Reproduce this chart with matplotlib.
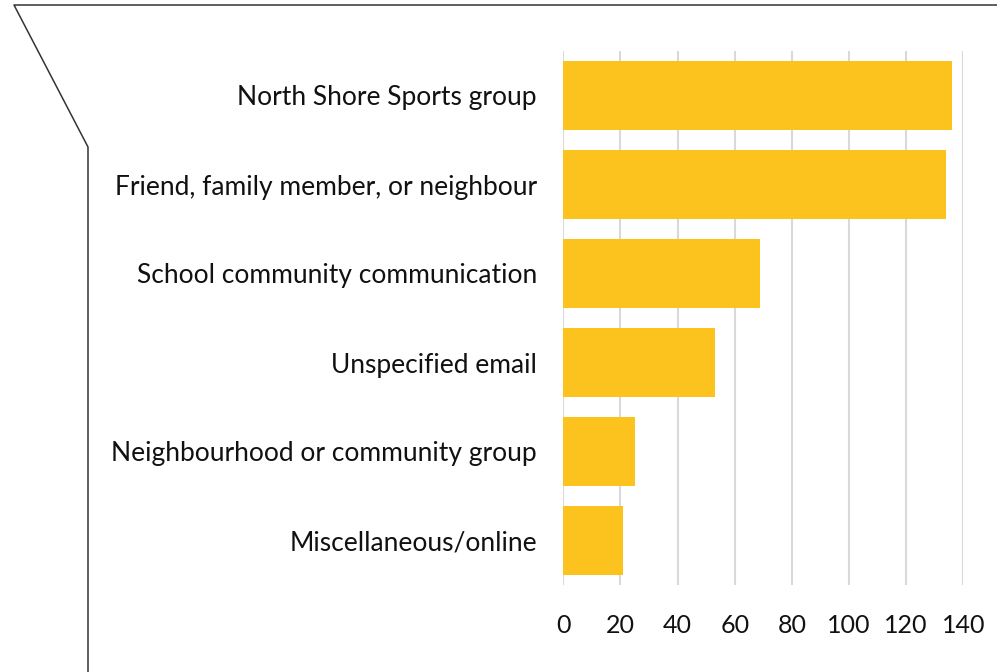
import matplotlib.pyplot as plt
from matplotlib.lines import Line2D

categories = [
    "North Shore Sports group",
    "Friend, family member, or neighbour",
    "School community communication",
    "Unspecified email",
    "Neighbourhood or community group",
    "Miscellaneous/online",
]
counts = [136, 134, 69, 53, 25, 21]
xticks = [0, 20, 40, 60, 80, 100, 120, 140]

plt.rcParams['font.family'] = ['Lato', 'DejaVu Sans']

W, H = 997, 672
fig = plt.figure(figsize=(W / 100, H / 100), dpi=100)
ax = fig.add_axes([563.3 / W, 1 - 585 / H, 400 / W, 534 / H])

y = list(range(len(categories)))
ax.barh(y, counts, height=0.765, color='#FCC21D', zorder=3)
ax.set_ylim(len(categories) - 0.5, -0.5)
ax.set_xlim(0, 140)
ax.set_xticks(xticks)
ax.set_yticks(y)
ax.set_yticklabels(categories, fontsize=19, color='#111111')
ax.tick_params(axis='x', labelsize=18, length=0, pad=21, labelcolor='#111111')
ax.tick_params(axis='y', length=0, pad=19)
ax.grid(axis='x', color='#D9D9D9', linewidth=1.5, zorder=0)
for s in ax.spines.values():
    s.set_visible(False)

# callout outline around the chart
def px(x, yy):
    return x / W, 1 - yy / H

pts = [px(997, 5), px(14, 5), px(88, 147), px(88, 672)]
fig.add_artist(Line2D([p[0] for p in pts], [p[1] for p in pts],
                      color='#333333', linewidth=1.1, transform=fig.transFigure))

fig.savefig("out.png", dpi=100)
